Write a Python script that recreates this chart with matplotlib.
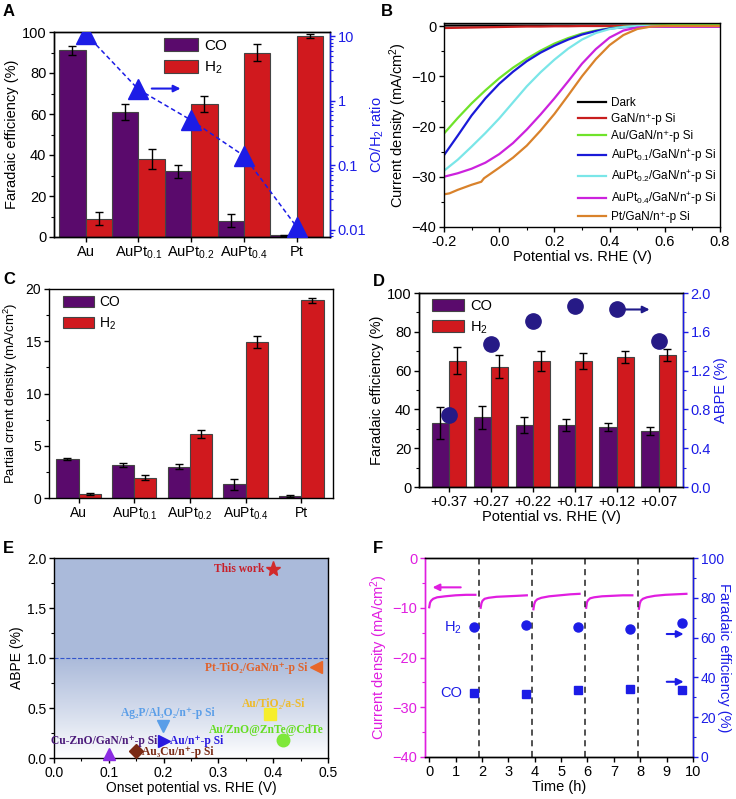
import numpy as np
import matplotlib
matplotlib.use('Agg')
import matplotlib.pyplot as plt
from matplotlib.patches import Patch
from matplotlib.ticker import MultipleLocator

plt.rcParams['font.family'] = ['Liberation Sans', 'DejaVu Sans']
plt.rcParams['mathtext.default'] = 'regular'
plt.rcParams['axes.linewidth'] = 1.0
plt.rcParams['xtick.direction'] = 'out'
plt.rcParams['ytick.direction'] = 'out'

PURPLE = '#5a0a6c'
RED = '#d0191e'
BLUE = '#1c1ce6'
MAG = '#e01ee0'

# ---- data -----------------------------------------------------------
cats = ['Au', 'AuPt$_{0.1}$', 'AuPt$_{0.2}$', 'AuPt$_{0.4}$', 'Pt']
fe_co = [91, 61, 32, 8, 0.8]
fe_co_err = [2, 4, 3, 3, 0.4]
fe_h2 = [9, 38, 65, 90, 98]
fe_h2_err = [3, 5, 4, 4, 1]
ratio = [11.0, 1.5, 0.5, 0.14, 0.011]

v_b = [-0.2, -0.15, -0.1, -0.05, 0.0, 0.05, 0.1, 0.15, 0.2, 0.25, 0.3,
       0.35, 0.4, 0.45, 0.5, 0.55, 0.6, 0.7, 0.8]
j_dark = [0.1, 0.1, 0.1, 0.1, 0.1, 0.1, 0.1, 0.1, 0.1, 0.1, 0.1, 0.1, 0.1,
          0.1, 0.1, 0.1, 0.15, 0.2, 0.3]
j_gan = [-0.4, -0.35, -0.3, -0.25, -0.2, -0.15, -0.1, -0.1, -0.05, -0.05,
         0, 0, 0, 0, 0, 0, 0, 0.05, 0.1]
j_au = [-21.4, -18.3, -15.4, -12.8, -10.4, -8.3, -6.5, -4.9, -3.5, -2.4,
        -1.5, -0.9, -0.45, -0.15, 0.0, 0.1, 0.15, 0.25, 0.35]
j_aupt01 = [-25.7, -21.8, -17.8, -14.4, -11.5, -9.1, -7.0, -5.3, -3.9, -2.7,
            -1.7, -1.0, -0.5, -0.25, -0.15, -0.1, -0.1, -0.1, -0.1]
j_aupt02 = [-28.8, -26.6, -24.0, -21.3, -18.4, -15.2, -12.0, -9.2, -6.7,
            -4.5, -2.7, -1.4, -0.6, -0.2, 0.0, 0.0, 0.0, 0.0, 0.0]
j_aupt04 = [-30.0, -29.3, -28.4, -27.2, -25.5, -23.3, -20.6, -17.6, -14.4,
            -11.0, -7.5, -4.6, -2.3, -0.9, -0.3, -0.15, -0.15, -0.15, -0.15]
v_pt = [-0.2, -0.18, -0.15, -0.1, -0.065, -0.055, 0.0, 0.05, 0.1, 0.15,
        0.2, 0.25, 0.3, 0.35, 0.4, 0.45, 0.5, 0.55, 0.6, 0.7, 0.8]
j_pt = [-33.5, -33.3, -32.6, -31.6, -31.0, -30.3, -28.2, -26.2, -23.8,
        -20.8, -17.5, -13.8, -10.0, -6.6, -3.8, -1.8, -0.6, -0.1, 0.0, 0.0, 0.0]

pj_co = [3.7, 3.15, 3.0, 1.3, 0.15]
pj_co_err = [0.1, 0.2, 0.25, 0.5, 0.1]
pj_h2 = [0.35, 1.95, 6.1, 14.95, 18.9]
pj_h2_err = [0.1, 0.25, 0.4, 0.6, 0.2]

pots = ['+0.37', '+0.27', '+0.22', '+0.17', '+0.12', '+0.07']
d_co = [33, 36, 32, 32, 31, 29]
d_co_err = [8, 6, 4, 3, 2, 2]
d_h2 = [65, 62, 65, 65, 67, 68]
d_h2_err = [7, 6, 5, 4, 3, 3]
abpe = [0.74, 1.47, 1.71, 1.87, 1.83, 1.51]

e_names = ['This work', 'Pt-TiO₂/GaN/n⁺-p Si', 'Au/TiO₂/a-Si',
           'Au/ZnO@ZnTe@CdTe', 'Ag₂P/Al₃O₂/n⁺-p Si',
           'Au/n⁺-p Si', 'Cu-ZnO/GaN/n⁺-p Si', 'Au₃Cu/n⁺-p Si']
e_onset = [0.40, 0.479, 0.395, 0.417, 0.199, 0.20, 0.101, 0.150]
e_abpe = [1.89, 0.91, 0.44, 0.177, 0.317, 0.173, 0.043, 0.073]

t1 = [0.0, 0.03, 0.07, 0.15, 0.3, 0.6, 1.0, 1.4, 1.75]
j1 = [-9.9, -9.0, -8.6, -8.2, -7.9, -7.7, -7.5, -7.4, -7.4]
t2 = [1.95, 1.98, 2.02, 2.1, 2.25, 2.55, 2.95, 3.35, 3.7]
j2 = [-10.0, -9.1, -8.6, -8.2, -8.0, -7.8, -7.7, -7.6, -7.5]
t3 = [3.95, 3.98, 4.02, 4.1, 4.25, 4.55, 4.95, 5.35, 5.7]
j3 = [-10.3, -9.3, -8.7, -8.3, -8.0, -7.7, -7.5, -7.3, -7.2]
t4 = [5.95, 5.98, 6.02, 6.1, 6.25, 6.55, 6.95, 7.35, 7.7]
j4 = [-10.0, -8.9, -8.5, -8.1, -7.9, -7.7, -7.6, -7.5, -7.5]
t5 = [7.95, 7.98, 8.02, 8.1, 8.25, 8.55, 8.95, 9.35, 9.75]
j5 = [-10.2, -9.2, -8.6, -8.2, -7.9, -7.6, -7.4, -7.3, -7.2]
breaks = [1.9, 3.9, 5.9, 7.9]
t_fe = [1.68, 3.65, 5.63, 7.63, 9.6]
fe_h2_t = [65.2, 66.4, 65.2, 64.4, 67.2]
fe_co_t = [32.4, 31.6, 33.6, 34.1, 33.6]

# ---- layout ---------------------------------------------------------
W, H = 736, 799
fig = plt.figure(figsize=(W / 100, H / 100), dpi=100)


def ax_at(l, t, r, b):
    return fig.add_axes([l / W, 1 - b / H, (r - l) / W, (b - t) / H])


def letter(x, y, s):
    fig.text(x / W, 1 - y / H, s, fontsize=12, fontweight='bold', va='top')


def ticks(ax, size=10.5):
    ax.tick_params(which='major', length=3.5, width=1, labelsize=size, pad=2)
    ax.tick_params(which='minor', length=2, width=0.8)


def bars(ax, a, ae, b, be, w):
    x = np.arange(len(a))
    ek = dict(ecolor='k', elinewidth=1, capsize=3, capthick=1)
    ax.bar(x - w / 2, a, w, yerr=ae, color=PURPLE, edgecolor='#444444',
           linewidth=0.8, error_kw=ek, zorder=2)
    ax.bar(x + w / 2, b, w, yerr=be, color=RED, edgecolor='#444444',
           linewidth=0.8, error_kw=ek, zorder=2)
    return x


def patch_legend(ax, anchor, size):
    h = [Patch(facecolor=PURPLE, edgecolor='#444444', lw=0.8),
         Patch(facecolor=RED, edgecolor='#444444', lw=0.8)]
    ax.legend(h, ['CO', 'H$_2$'], loc='upper left', bbox_to_anchor=anchor,
              frameon=False, fontsize=size, handlelength=2.2,
              handleheight=0.9, handletextpad=0.4, labelspacing=0.45,
              borderpad=0, borderaxespad=0)


# ---- A --------------------------------------------------------------
ax = ax_at(54, 32, 330, 237)
x = bars(ax, fe_co, fe_co_err, fe_h2, fe_h2_err, 0.5)
ax.set_xlim(-0.6, 4.63)
ax.set_ylim(0, 100)
ax.set_xticks(x, cats)
ax.yaxis.set_major_locator(MultipleLocator(20))
ax.yaxis.set_minor_locator(MultipleLocator(10))
ax.set_ylabel('Faradaic efficiency (%)', fontsize=10.5, labelpad=2)
ticks(ax)
patch_legend(ax, (0.4, 0.97), 11)
ar = ax.twinx()
ar.set_yscale('log')
ar.set_ylim(0.0077, 11.7)
ar.plot(x, ratio, '--', color=BLUE, lw=1.1, marker='^', ms=14,
        markerfacecolor=BLUE, markeredgecolor=BLUE, zorder=5,
        dashes=(3, 2))
ar.annotate('', xy=(1.85, 1.55), xytext=(1.2, 1.55),
            arrowprops=dict(arrowstyle='-|>', color=BLUE, lw=1.5,
                            mutation_scale=10))
ar.set_yticks([0.01, 0.1, 1, 10], ['0.01', '0.1', '1', '10'])
ar.spines['right'].set_color(BLUE)
ar.tick_params(axis='y', which='both', colors=BLUE)
ticks(ar)
ar.set_ylabel('CO/H$_2$ ratio', color=BLUE, fontsize=10.5, labelpad=2)
letter(3, 4, 'A')

# ---- B --------------------------------------------------------------
ax = ax_at(444, 23, 720, 227)
ax.plot(v_b, j_dark, color='black', lw=1.6, label='Dark')
ax.plot(v_b, j_gan, color='#c81e1e', lw=1.6, label='GaN/n⁺-p Si')
ax.plot(v_b, j_au, color='#6fe32a', lw=1.6, label='Au/GaN/n⁺-p Si')
ax.plot(v_b, j_aupt01, color='#1a1ad8', lw=1.6,
        label='AuPt$_{0.1}$/GaN/n$^{+}$-p Si')
ax.plot(v_b, j_aupt02, color='#7ae6e8', lw=1.6,
        label='AuPt$_{0.2}$/GaN/n$^{+}$-p Si')
ax.plot(v_b, j_aupt04, color='#cc22dd', lw=1.6,
        label='AuPt$_{0.4}$/GaN/n$^{+}$-p Si')
ax.plot(v_pt, j_pt, color='#d9822b', lw=1.6, label='Pt/GaN/n⁺-p Si')
ax.set_xlim(-0.2, 0.8)
ax.set_ylim(-40, 0.6)
ax.xaxis.set_minor_locator(MultipleLocator(0.1))
ax.yaxis.set_major_locator(MultipleLocator(10))
ax.yaxis.set_minor_locator(MultipleLocator(5))
ax.set_xticks([-0.2, 0.0, 0.2, 0.4, 0.6, 0.8],
              ['-0.2', '0.0', '0.2', '0.4', '0.6', '0.8'])
ticks(ax)
ax.set_xlabel('Potential vs. RHE (V)', fontsize=10.5, labelpad=1)
ax.set_ylabel('Current density (mA/cm$^2$)', fontsize=10.5, labelpad=2)
ax.legend(loc='lower right', frameon=False, fontsize=8.5, handlelength=2.4,
          handletextpad=0.4, labelspacing=0.4, borderpad=0.2,
          borderaxespad=0.1)
letter(381, 4, 'B')

# ---- C --------------------------------------------------------------
ax = ax_at(49, 289, 333, 498)
x = bars(ax, pj_co, pj_co_err, pj_h2, pj_h2_err, 0.4)
ax.set_xlim(-0.53, 4.57)
ax.set_ylim(0, 20)
ax.set_xticks(x, cats)
ax.yaxis.set_major_locator(MultipleLocator(5))
ax.yaxis.set_minor_locator(MultipleLocator(2.5))
ax.set_ylabel('Partial crrent density (mA/cm$^2$)', fontsize=9.5,
              labelpad=4)
ticks(ax, 10)
patch_legend(ax, (0.05, 0.97), 10)
letter(3, 272, 'C')

# ---- D --------------------------------------------------------------
ax = ax_at(419, 293, 683, 487)
x = bars(ax, d_co, d_co_err, d_h2, d_h2_err, 0.41)
ax.set_xlim(-0.71, 5.58)
ax.set_ylim(0, 100)
ax.set_xticks(x, pots)
ax.yaxis.set_major_locator(MultipleLocator(20))
ax.yaxis.set_minor_locator(MultipleLocator(10))
ax.set_ylabel('Faradaic efficiency (%)', fontsize=10.5, labelpad=2)
ax.set_xlabel('Potential vs. RHE (V)', fontsize=10.5, labelpad=1)
ticks(ax)
patch_legend(ax, (0.05, 0.97), 10.5)
ar = ax.twinx()
ar.set_ylim(0, 2.0)
ar.annotate('', xy=(4.85, 1.83), xytext=(4.0, 1.83),
            arrowprops=dict(arrowstyle='-|>', color='#1f1a8a', lw=1.5,
                            mutation_scale=10))
ar.plot(x, abpe, 'o', ms=11, color='#261a86', zorder=5)
ar.yaxis.set_minor_locator(MultipleLocator(0.2))
ar.set_yticks([0, 0.4, 0.8, 1.2, 1.6, 2.0],
              ['0.0', '0.4', '0.8', '1.2', '1.6', '2.0'])
ar.spines['right'].set_color(BLUE)
ar.tick_params(axis='y', which='both', colors=BLUE)
ticks(ar)
ar.set_ylabel('ABPE (%)', color=BLUE, fontsize=10.5, labelpad=2)
letter(373, 274, 'D')

# ---- E --------------------------------------------------------------
ax = ax_at(54, 558, 328, 758)
yy = np.linspace(0, 2, 200)
fade = np.clip(yy / 1.0, 0, 1) ** 0.9
base = np.array([0.67, 0.73, 0.855])
col = 1 - fade[:, None] * (1 - base[None, :])
ax.imshow(col[:, None, :], extent=[0, 0.5, 0, 2], origin='lower',
          aspect='auto', zorder=0)
ax.axhline(1.0, color='#3355cc', lw=0.8, ls='--', zorder=1)
mk = ['*', '<', 's', 'o', 'v', '>', '^', 'D']
mcol = ['#d22a2a', '#e8672a', '#f6ee2c', '#7ee83a', '#5a9ee8', '#2a1ae0',
        '#8a2be2', '#7a2a14']
msz = [11, 9, 8, 9, 9, 9, 9, 7]
tcol = ['#c8202a', '#e0622a', '#eebb2a', '#66dd22', '#5a9ee8', '#2a1ae0',
        '#4b1a7a', '#7a2a14']
tpos = [(0.383, 1.89, 'right'), (0.4635, 0.9, 'right'),
        (0.401, 0.54, 'center'), (0.387, 0.283, 'center'),
        (0.208, 0.447, 'center'), (0.211, 0.167, 'left'),
        (0.1886, 0.167, 'right'), (0.161, 0.057, 'left')]
for i in range(len(e_names)):
    ax.plot(e_onset[i], e_abpe[i], marker=mk[i], ms=msz[i], color=mcol[i],
            ls='none', zorder=4, clip_on=False)
    tx, ty, ha = tpos[i]
    ax.text(tx, ty, e_names[i], color=tcol[i], ha=ha, va='center',
            fontsize=8.3, fontweight='bold',
            family=['Liberation Serif', 'DejaVu Serif'], zorder=5)
ax.set_xlim(0, 0.5)
ax.set_ylim(0, 2.0)
ax.xaxis.set_major_locator(MultipleLocator(0.1))
ax.xaxis.set_minor_locator(MultipleLocator(0.05))
ax.yaxis.set_major_locator(MultipleLocator(0.5))
ax.yaxis.set_minor_locator(MultipleLocator(0.25))
ticks(ax, 10)
ax.set_xlabel('Onset potential vs. RHE (V)', fontsize=10, labelpad=1)
ax.set_ylabel('ABPE (%)', fontsize=10, labelpad=2)
letter(3, 541, 'E')

# ---- F --------------------------------------------------------------
ax = ax_at(425, 558, 693, 757)
for t, j in [(t1, j1), (t2, j2), (t3, j3), (t4, j4), (t5, j5)]:
    ax.plot(t, j, color=MAG, lw=1.6)
for b in breaks:
    ax.axvline(b, color='#222222', lw=1.1, ls=(0, (4, 3)))
ax.annotate('', xy=(0.02, -5.9), xytext=(1.3, -5.9),
            arrowprops=dict(arrowstyle='-|>', color=MAG, lw=1.5,
                            mutation_scale=10))
ax.set_xlim(-0.16, 10)
ax.set_ylim(-40, 0)
ax.set_xticks(range(0, 11))
ax.yaxis.set_major_locator(MultipleLocator(10))
ax.yaxis.set_minor_locator(MultipleLocator(5))
ax.spines['left'].set_color(MAG)
ax.tick_params(axis='y', which='both', colors=MAG)
ticks(ax)
ax.set_xlabel('Time (h)', fontsize=10.5, labelpad=1)
ax.set_ylabel('Current density (mA/cm$^2$)', color=MAG, fontsize=10.5,
              labelpad=2)
ar = ax.twinx()
ar.set_ylim(0, 100)
ar.plot(t_fe, fe_h2_t, 'o', ms=6.5, color=BLUE)
ar.plot(t_fe, fe_co_t, 's', ms=6, color=BLUE)
ar.text(0.9, 65, 'H$_2$', color=BLUE, fontsize=10.5, ha='center',
        va='center')
ar.text(0.85, 32.4, 'CO', color=BLUE, fontsize=10.5, ha='center',
        va='center')
for yv in [61.8, 37.8]:
    ar.annotate('', xy=(9.75, yv), xytext=(8.9, yv),
                arrowprops=dict(arrowstyle='-|>', color=BLUE, lw=1.5,
                                mutation_scale=10))
ar.yaxis.set_major_locator(MultipleLocator(20))
ar.yaxis.set_minor_locator(MultipleLocator(10))
ar.spines['right'].set_color(BLUE)
ar.spines['left'].set_color(MAG)
ar.tick_params(axis='y', which='both', colors=BLUE)
ticks(ar, 10)
ar.set_ylabel('Faradaic efficiency (%)', color=BLUE, fontsize=10.5,
              rotation=270, va='center', ha='center')
ar.yaxis.set_label_coords(1.115, 0.5)
letter(373, 541, 'F')

fig.savefig('out.png', dpi=100)
